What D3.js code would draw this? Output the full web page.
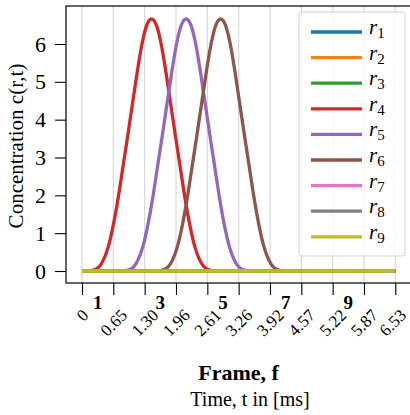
<!DOCTYPE html>
<html><head><meta charset="utf-8">
<script src="https://cdn.jsdelivr.net/npm/d3@7"></script>
<style>body{margin:0;background:#fff}svg{display:block}</style>
</head><body>
<svg id="chart" width="410" height="415"></svg>
<script>
// ---------- data ----------
const seriesNames  = ["1","2","3","4","5","6","7","8","9"];
const seriesColors = ["#1f77b4","#ff7f0e","#2ca02c","#d62728","#9467bd","#8c564b","#e377c2","#7f7f7f","#bcbd22"];

const tFlat = [0, 6.53];
const cFlat = [0, 0];

const t4 = [0,0.15,0.25,0.35,0.45,0.55,0.65,0.75,0.85,0.95,1.05,1.15,1.25,1.35,1.45,1.55,1.65,1.75,1.85,1.95,2.05,2.15,2.25,2.35,2.45,2.55,2.65,2.75,6.53];
const c4 = [0,0,0.03,0.10,0.30,0.65,1.20,1.90,2.72,3.55,4.40,5.25,6.00,6.50,6.66,6.50,6.00,5.25,4.40,3.55,2.72,1.90,1.20,0.65,0.30,0.10,0.03,0,0];

const t5 = [0,0.87,0.97,1.07,1.17,1.27,1.37,1.47,1.57,1.67,1.77,1.87,1.97,2.07,2.17,2.27,2.37,2.47,2.57,2.67,2.77,2.87,2.97,3.07,3.17,3.27,3.37,3.47,6.53];
const c5 = [0,0,0.03,0.10,0.30,0.65,1.20,1.90,2.72,3.55,4.40,5.25,6.00,6.50,6.66,6.50,6.00,5.25,4.40,3.55,2.72,1.90,1.20,0.65,0.30,0.10,0.03,0,0];

const t6 = [0,1.59,1.69,1.79,1.89,1.99,2.09,2.19,2.29,2.39,2.49,2.59,2.69,2.79,2.89,2.99,3.09,3.19,3.29,3.39,3.49,3.59,3.69,3.79,3.89,3.99,4.09,4.19,6.53];
const c6 = [0,0,0.03,0.10,0.30,0.65,1.20,1.90,2.72,3.55,4.40,5.25,6.00,6.50,6.66,6.50,6.00,5.25,4.40,3.55,2.72,1.90,1.20,0.65,0.30,0.10,0.03,0,0];

const seriesT = [tFlat, tFlat, tFlat, t4, t5, t6, tFlat, tFlat, tFlat];
const seriesC = [cFlat, cFlat, cFlat, c4, c5, c6, cFlat, cFlat, cFlat];

const timeTicks  = [0, 0.653, 1.306, 1.959, 2.612, 3.265, 3.918, 4.571, 5.224, 5.877, 6.53];
const timeLabels = ["0","0.65","1.30","1.96","2.61","3.26","3.92","4.57","5.22","5.87","6.53"];
const frameLabels = [1, 3, 5, 7, 9];
const frameDt = 0.653;
const yTicks = [0, 1, 2, 3, 4, 5, 6];

// ---------- layout ----------
const L = 66, R = 411, T = 6, B = 283;
const svg = d3.select("#chart");
const serif = "'Liberation Serif','Times New Roman',serif";

const x = d3.scaleLinear().domain([-0.3335, 6.857]).range([L, R]);
const y = d3.scaleLinear().domain([-0.317, 7.004]).range([B, T]);

// grid
svg.append("g").selectAll("line").data(timeTicks).join("line")
  .attr("x1", d => x(d)).attr("x2", d => x(d)).attr("y1", T).attr("y2", B)
  .attr("stroke", "#d8d8d8").attr("stroke-width", 1.2);

// lines
const line = d3.line().x(d => x(d[0])).y(d => y(d[1])).curve(d3.curveMonotoneX);
svg.append("defs").append("clipPath").attr("id","clip").append("rect")
  .attr("x", L).attr("y", T).attr("width", R - L).attr("height", B - T);
const lg = svg.append("g").attr("clip-path","url(#clip)");
seriesNames.forEach((n, i) => {
  const pts = seriesT[i].map((t, j) => [t, seriesC[i][j]]);
  lg.append("path").attr("d", line(pts)).attr("fill","none")
    .attr("stroke", seriesColors[i]).attr("stroke-width", 3.3)
    .attr("stroke-linejoin","round").attr("stroke-linecap","butt");
});

// spines
svg.append("rect").attr("x", L).attr("y", T).attr("width", R - L + 5).attr("height", B - T)
  .attr("fill","none").attr("stroke","#000").attr("stroke-width",1.2);

// y axis
const ya = svg.append("g").attr("transform", `translate(${L},0)`)
  .call(d3.axisLeft(y).tickValues(yTicks).tickSize(11).tickPadding(9).tickFormat(d3.format("d")));
ya.select(".domain").remove();
ya.selectAll("line").attr("stroke","#000").attr("stroke-width",1.1);
ya.selectAll("text").attr("font-family", serif).attr("font-size", 22).attr("fill","#000");

// x axis
const xa = svg.append("g").attr("transform", `translate(0,${B})`)
  .call(d3.axisBottom(x).tickValues(timeTicks).tickSize(12).tickFormat((d, i) => timeLabels[i]));
xa.select(".domain").remove();
xa.selectAll("line").attr("stroke","#000").attr("stroke-width",1.1);
const nLab = timeLabels.length;
xa.selectAll("text").attr("font-family", serif).attr("font-size", 17).attr("fill","#000")
  .attr("text-anchor","middle").attr("dominant-baseline","central").attr("dy", null)
  .each(function(d, i) {
    const w = this.getComputedTextLength();
    const h = 12;
    const yc = 25 + (w + h) / (2 * Math.SQRT2);
    const dx = (i === nLab - 1) ? -3 : 0;   // keep last label inside the page
    d3.select(this).attr("y", null).attr("transform", `translate(${dx},${yc}) rotate(-45)`);
  });

// frame labels
svg.append("g").selectAll("text").data(frameLabels).join("text")
  .attr("x", d => x((d - 0.5) * frameDt)).attr("y", 309)
  .attr("text-anchor","middle").attr("font-family", serif).attr("font-weight","bold")
  .attr("font-size", 19).text(d => d);

// axis titles
svg.append("text").attr("x", 238.5).attr("y", 380).attr("text-anchor","middle")
  .attr("font-family", serif).attr("font-weight","bold").attr("font-size", 22).text("Frame, f");
svg.append("text").attr("x", 250).attr("y", 406).attr("text-anchor","middle")
  .attr("font-family", serif).attr("font-size", 20).text("Time, t in [ms]");
svg.append("text").attr("transform","translate(23,146) rotate(-90)").attr("text-anchor","middle")
  .attr("font-family", serif).attr("font-size", 21).text("Concentration c(r,t)");

// legend
const leg = svg.append("g");
leg.append("rect").attr("x", 299).attr("y", 12).attr("width", 106).attr("height", 244).attr("rx", 3)
  .attr("fill","#fff").attr("fill-opacity",0.8).attr("stroke","#d0d0d0").attr("stroke-width",1);
seriesNames.forEach((n, i) => {
  const yy = 32 + i * 25.6;
  leg.append("line").attr("x1", 311).attr("x2", 362).attr("y1", yy).attr("y2", yy)
    .attr("stroke", seriesColors[i]).attr("stroke-width", 3.3);
  const t = leg.append("text").attr("x", 369).attr("y", yy + 2).attr("font-family", serif).attr("font-size", 21);
  t.append("tspan").attr("font-style","italic").text("r");
  t.append("tspan").attr("font-size", 15).attr("dy", 4).text(n);
});
</script>
</body></html>
